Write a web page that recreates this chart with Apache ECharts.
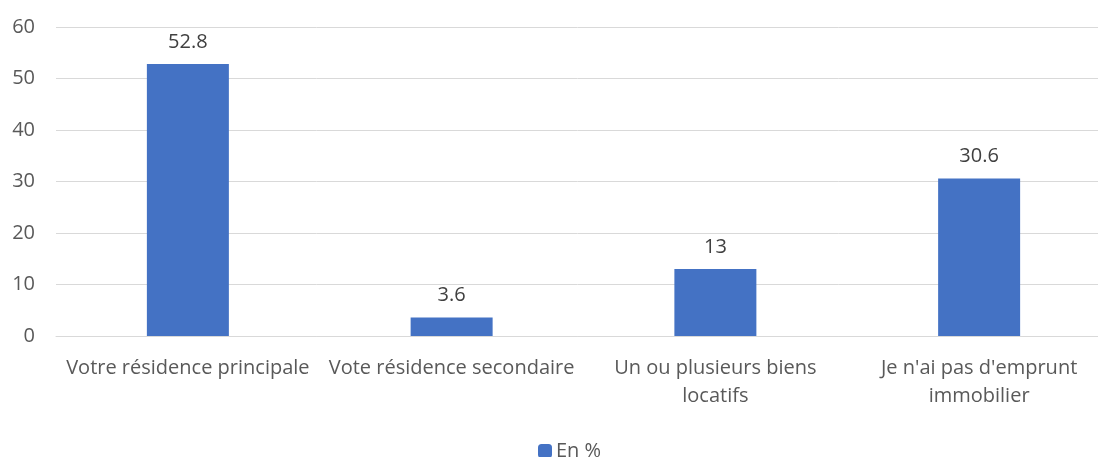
<!DOCTYPE html>
<html lang="fr">
<head>
  <meta charset="UTF-8">
  <title>Emprunt immobilier</title>
  <script src="https://cdn.jsdelivr.net/npm/echarts@6/dist/echarts.min.js"></script>
  <style>
    html, body { margin: 0; padding: 0; background: #fff; }
    #main { width: 1098px; height: 457px; }
  </style>
</head>
<body>
  <div id="main"></div>
  <script type="text/javascript">
    // categories (line breaks as in the original)
    var categories = [
      'Votre résidence principale',
      'Vote résidence secondaire',
      'Un ou plusieurs biens\nlocatifs',
      "Je n'ai pas d'emprunt\nimmobilier"
    ];
    var values = [52.8, 3.6, 13, 30.6];
    var seriesName = 'En %';
    var yTicks = { min: 0, max: 60, step: 10 };

    var font = '"Open Sans", "Noto Sans", sans-serif';
    var grey = '#595959';

    var myChart = echarts.init(document.getElementById('main'));
    myChart.setOption({
      animation: false,
      textStyle: { fontFamily: font },
      grid: { left: 56, top: 27, width: 1055, bottom: 121, outerBoundsMode: 'none', containLabel: false },
      legend: {
        data: [seriesName],
        top: 436,
        left: 533,
        itemWidth: 14,
        itemHeight: 14,
        itemGap: 4,
        textStyle: { color: grey, fontSize: 20, fontFamily: font, padding: [0, 0, 0, -1] }
      },
      xAxis: {
        type: 'category',
        data: categories,
        axisLine: { show: true, lineStyle: { color: '#d9d9d9', width: 1 } },
        axisTick: { show: false },
        axisLabel: {
          color: grey,
          fontSize: 20,
          lineHeight: 28,
          margin: 18,
          interval: 0,
          fontFamily: font
        }
      },
      yAxis: {
        type: 'value',
        min: yTicks.min,
        max: yTicks.max,
        interval: yTicks.step,
        axisLine: { show: false },
        axisTick: { show: false },
        splitLine: { lineStyle: { color: '#d9d9d9', width: 1 } },
        axisLabel: { color: grey, fontSize: 20, margin: 21, fontFamily: font }
      },
      series: [{
        name: seriesName,
        type: 'bar',
        data: values,
        barWidth: 82,
        itemStyle: { color: '#4472c4' },
        label: {
          show: true,
          position: 'top',
          distance: 12,
          color: '#404040',
          fontSize: 20,
          fontFamily: font
        }
      }]
    });
  </script>
</body>
</html>
